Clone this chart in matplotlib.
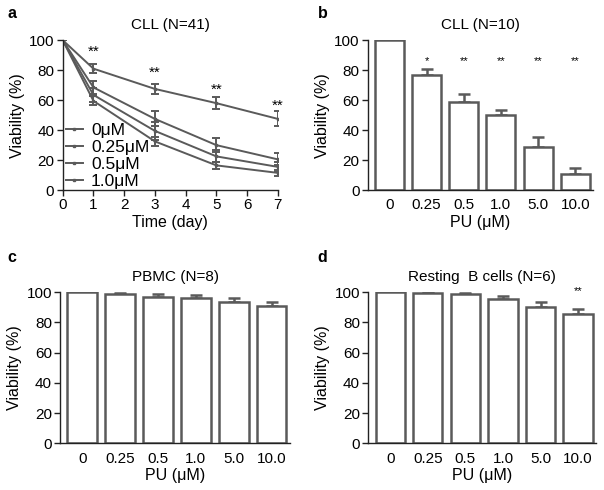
import matplotlib
matplotlib.use("Agg")
import matplotlib.pyplot as plt
from matplotlib.lines import Line2D
import numpy as np

plt.rcParams['font.family'] = ['Liberation Sans', 'DejaVu Sans']

# ---- data ----
days = [0, 1, 3, 5, 7]
conc_labels = ["0μM", "0.25μM", "0.5μM", "1.0μM"]
a_mean = [
    [100, 81, 67.5, 58, 47.5],
    [100, 68.5, 47.5, 30, 20.5],
    [100, 63.5, 39.5, 22.5, 15.5],
    [100, 59.5, 32.5, 16.5, 11.5],
]
a_err = [
    [0, 3, 3.5, 4, 5],
    [0, 4.5, 5, 4.5, 4],
    [0, 4.5, 6, 4, 3.5],
    [0, 3, 3, 2.5, 2],
]
a_star_days = [1, 3, 5, 7]
a_star_y = [92, 78, 67, 56.5]

pu_labels = ["0", "0.25", "0.5", "1.0", "5.0", "10.0"]
b_mean = [100, 77, 59, 50, 29, 11]
b_err = [0, 4, 5, 3.5, 6.5, 3.5]
b_stars = ["", "*", "**", "**", "**", "**"]

c_mean = [100, 98.7, 97.1, 96, 93.6, 90.7]
c_err = [0, 0.8, 1.5, 2, 2.9, 2.9]

d_mean = [100, 99.3, 98.7, 95.6, 90.3, 85.4]
d_err = [0, 0, 0.9, 2.2, 3.3, 3.3]
d_stars = ["", "", "", "", "", "**"]

gray = "#5a5a5a"
axc = "#222222"
TFS = 11
LFS = 11.5

fig = plt.figure(figsize=(6.04, 4.90), dpi=100)

def style(ax):
    for s in ["top", "right"]:
        ax.spines[s].set_visible(False)
    for s in ["left", "bottom"]:
        ax.spines[s].set_color(axc)
        ax.spines[s].set_linewidth(1.0)
    ax.tick_params(direction="out", length=4, width=1.0, color=axc, labelsize=TFS, pad=2)
    ax.set_ylim(0, 100)
    ax.set_yticks([0, 20, 40, 60, 80, 100])

# panel a
ax = fig.add_axes([0.1038, 0.612, 0.3562, 0.306])
for m, e in zip(a_mean, a_err):
    ax.errorbar(days, m, yerr=e, color=gray, lw=1.4, capsize=2.8, capthick=1.4,
                elinewidth=1.4, marker="s", markersize=2)
for d, y in zip(a_star_days, a_star_y):
    ax.text(d, y, "**", ha="center", va="center", fontsize=11)
style(ax)
ax.set_xlim(0, 7)
ax.set_xticks(range(8))
ax.set_xlabel("Time (day)", fontsize=LFS, labelpad=2)
ax.set_ylabel("Viability (%)", fontsize=LFS, labelpad=3)
ax.set_title("CLL (N=41)", fontsize=TFS, pad=8)
handles = [Line2D([], [], color=gray, lw=1.4, marker="s", markersize=2) for _ in conc_labels]
ax.legend(handles, conc_labels, loc="lower left", bbox_to_anchor=(-0.01, -0.025), frameon=False,
          fontsize=12.5, handlelength=1.0, handletextpad=0.45, labelspacing=0.1,
          borderaxespad=0.0, borderpad=0.3)

def bar_panel(rect, mean, err, title, stars=None, star_y=None, star_fs=8):
    ax = fig.add_axes(rect)
    x = np.arange(len(mean))
    lower = [0] * len(err)
    ax.bar(x, mean, width=0.78, color="white", edgecolor=gray, linewidth=1.8, zorder=2)
    ax.errorbar(x[1:], mean[1:], yerr=[lower[1:], err[1:]], fmt="none", ecolor=gray,
                elinewidth=1.8, capsize=4.5, capthick=1.8, zorder=1)
    if stars:
        for xi, s in zip(x, stars):
            if s:
                ax.text(xi, star_y, s, ha="center", va="center", fontsize=star_fs)
    style(ax)
    ax.set_xlim(-0.58, 5.48)
    ax.set_xticks(x)
    ax.set_xticklabels(pu_labels)
    ax.tick_params(axis="x", length=0, pad=6)
    ax.set_xlabel("PU (μM)", fontsize=LFS, labelpad=2)
    ax.set_ylabel("Viability (%)", fontsize=LFS, labelpad=3)
    ax.set_title(title, fontsize=TFS, pad=8)
    return ax

bar_panel([0.609, 0.612, 0.373, 0.306], b_mean, b_err, "CLL (N=10)", b_stars, 86)
bar_panel([0.0998, 0.0953, 0.380, 0.3082], c_mean, c_err, "PBMC (N=8)")
bar_panel([0.610, 0.0953, 0.377, 0.3082], d_mean, d_err, "Resting  B cells (N=6)", d_stars, 100.5)

for lab, x, y in [("a", 0.012, 0.972), ("b", 0.526, 0.972), ("c", 0.012, 0.474), ("d", 0.526, 0.474)]:
    fig.text(x, y, lab, fontsize=11.5, fontweight="bold", ha="left", va="center")

fig.savefig("out.png", dpi=100)
